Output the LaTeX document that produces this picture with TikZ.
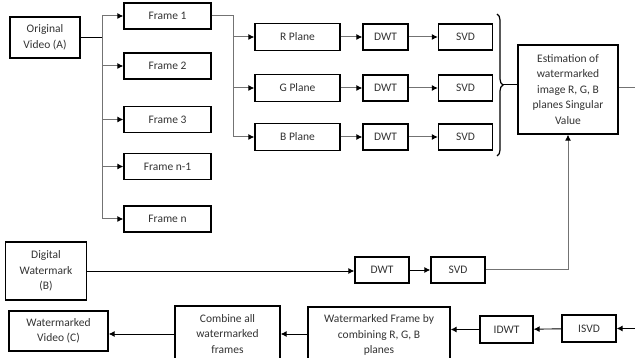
\documentclass[tikz,border=0pt]{standalone}
\usepackage{fontspec}
\setmainfont{Carlito}
\usetikzlibrary{arrows.meta,decorations.pathreplacing}

\tikzset{
  blk/.style={draw=black, line width=1.3pt, fill=white, align=center, inner sep=1pt,
    text=black!80, font=\fontsize{11.5}{15.5}\selectfont},
  con/.style={draw=black!55, line width=1pt},
  arr/.style={con, -{Latex[length=6pt,width=6pt,black]}},
  karr/.style={draw=black, line width=0.9pt, -{Latex[length=6pt,width=6pt]}},
}

\begin{document}
\begin{tikzpicture}[x=1pt,y=-1pt]
\useasboundingbox (0,0) rectangle (635,358);

% inputs
\node[blk, minimum width=70, minimum height=41] (orig) at (45,37.5) {Original\\Video (A)};
\node[blk, minimum width=81, minimum height=58] (dw) at (46,271) {Digital\\Watermark\\(B)};

% frames
\foreach \n/\t/\y in {f1/Frame 1/16, f2/Frame 2/66, f3/Frame 3/119.5, fm/Frame n-1/166.5, fn/Frame n/219}
  \node[blk, minimum width=87, minimum height=26] (\n) at (167.5,\y) {\t};

% planes, DWT, SVD
\foreach \c/\t/\y in {r/R/37, g/G/88, b/B/137}{
  \node[blk, minimum width=85, minimum height=27] (\c p) at (297.5,\y) {\t\ Plane};
  \node[blk, minimum width=45, minimum height=26] (\c dwt) at (385.5,\y) {DWT};
  \node[blk, minimum width=54, minimum height=26] (\c svd) at (465.5,\y) {SVD};
  \draw[arr] (\c p) -- (\c dwt);
  \draw[arr] (\c dwt) -- (\c svd);
}

\node[blk, minimum width=100, minimum height=89] (est) at (568,89.5)
  {Estimation of\\watermarked\\image R, G, B\\planes Singular\\Value};

% watermark path
\node[blk, minimum width=54, minimum height=26] (wdwt) at (382,270) {DWT};
\node[blk, minimum width=54, minimum height=26] (wsvd) at (458,270) {SVD};

% output row
\node[blk, minimum width=54, minimum height=27] (isvd) at (589,328.5) {ISVD};
\node[blk, minimum width=53, minimum height=27] (idwt) at (506.5,329.5) {IDWT};
\node[blk, minimum width=142, minimum height=56] (wf) at (379,335) {Watermarked Frame by\\combining R, G, B\\planes};
\node[blk, minimum width=105, minimum height=56] (comb) at (227.5,334) {Combine all\\watermarked\\frames};
\node[blk, minimum width=99, minimum height=40] (wv) at (58.5,331) {Watermarked\\Video (C)};

% frame bus
\coordinate (busA) at (102,37.5);
\draw[draw=black, line width=1pt] (orig.east) -- (busA);
\draw[con] (busA |- f1) -- (busA |- fn);
\foreach \n in {f1,f2,f3,fm,fn}
  \draw[arr] (busA |- \n) -- (\n);

% plane bus
\coordinate (busB) at (233,16);
\draw[con] (f1.east) -- (busB) -- (busB |- bp);
\foreach \c in {rp,gp,bp}
  \draw[arr] (busB |- \c) -- (\c);

% brace to estimation
\draw[decorate, decoration={brace, amplitude=6pt}, line width=1.2pt] (497,14) -- (497,156);
\coordinate (bt) at (503,85);
\draw[draw=black, line width=1pt] (bt) -- (bt -| est.west);

% watermark to estimation
\draw[karr] (dw.east) -- (dw.east -| wdwt.west);
\draw[karr] (wdwt) -- (wsvd);
\coordinate (turn) at (est.south |- wsvd.east);
\draw[arr] (wsvd.east) -- (turn) -- (est.south);

% right edge
\coordinate (outR) at (635,88);
\coordinate (inR) at (635,328.5);
\draw[con] (est.east |- outR) -- (outR);
\draw[karr] (inR) -- (isvd);
\draw[karr] (isvd) -- (idwt);
\draw[karr] (idwt) -- (idwt -| wf.east);
\draw[karr] (wf.west |- comb) -- (comb);
\draw[karr] (comb) -- (comb -| wv.east);

\end{tikzpicture}
\end{document}
